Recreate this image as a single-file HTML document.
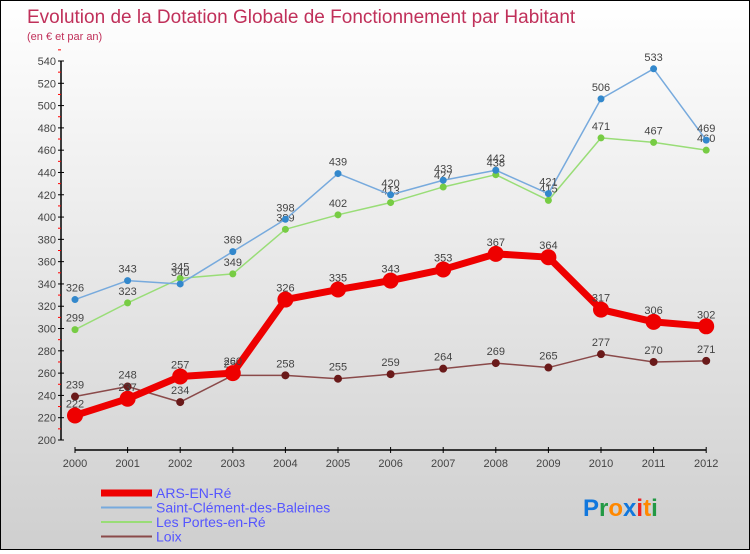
<!DOCTYPE html>
<html><head><meta charset="utf-8"><style>
body{margin:0;width:750px;height:550px;overflow:hidden;font-family:"Liberation Sans",sans-serif}
#c{position:absolute;left:0;top:0;width:748px;height:548px;border:1px solid #000;background:linear-gradient(#ffffff,#cfcfcf)}
</style></head><body>
<div id="c">
<svg id="s" width="748" height="548" xmlns="http://www.w3.org/2000/svg"></svg>
</div>
<script>
const years=["2000","2001","2002","2003","2004","2005","2006","2007","2008","2009","2010","2011","2012"];
const ars=[222,237,257,260,326,335,343,353,367,364,317,306,302];
const scb=[326,343,340,369,398,439,420,433,442,421,506,533,469];
const lpr=[299,323,345,349,389,402,413,427,438,415,471,467,460];
const loix=[239,248,234,258,258,255,259,264,269,265,277,270,271];
const yTicks=[200,220,240,260,280,300,320,340,360,380,400,420,440,460,480,500,520,540];
const NS="http://www.w3.org/2000/svg";
const s=document.getElementById('s');
function x(i){return 74+i*52.6;}
function y(v){return 439-(v-200)*1.1147;}
function el(t,a,txt){const e=document.createElementNS(NS,t);for(const k in a)e.setAttribute(k,a[k]);if(txt!==undefined)e.textContent=txt;s.appendChild(e);return e;}
let t=el('text',{x:26,y:22,'font-size':19,fill:'#c0305a'},'Evolution de la Dotation Globale de Fonctionnement par Habitant');

t=el('text',{x:26,y:39,'font-size':11,fill:'#c0305a'},'(en € et par an)');

let a=el('line',{x1:60,y1:y(540),x2:60,y2:y(200),stroke:'#000','stroke-width':1.5});

yTicks.forEach(v=>{
 el('line',{x1:57,x2:63,y1:y(v),y2:y(v),stroke:'#000'});
 el('line',{x1:57,x2:60,y1:y(v+10),y2:y(v+10),stroke:'#f00'});
 const l=el('text',{x:55,y:y(v)+4,'font-size':11,fill:'#444','text-anchor':'end'},v);
 
});
a=el('line',{x1:x(0),y1:449,x2:x(12),y2:449,stroke:'#000','stroke-width':1.5});

years.forEach((yr,i)=>{
 el('line',{x1:x(i),x2:x(i),y1:446,y2:452,stroke:'#000'});
 const l=el('text',{x:x(i),y:466,'font-size':11,fill:'#444','text-anchor':'middle'},yr);
 
});
function series(d,col,dot,w,r,name){
 const p=el('polyline',{points:d.map((v,i)=>x(i)+','+y(v)).join(' '),fill:'none',stroke:col,'stroke-width':w,'stroke-linejoin':'round'});
 
 d.forEach((v,i)=>{
  const c=el('circle',{cx:x(i),cy:y(v),r:r,fill:dot});
  
  const l=el('text',{x:x(i),y:y(v)-8,'font-size':11,fill:'#444','text-anchor':'middle'},v);
  
 });
}
series(loix,'#8a4a4a','#6a1a1a',1.5,4,'loix');
series(lpr,'#99dd77','#77cc44',1.5,3.5,'les-portes');
series(scb,'#77aadd','#3388cc',1.5,3.5,'saint-clement');
series(ars,'#ee0000','#ee0000',7,8,'ars-en-re');
const leg=[['ARS-EN-Ré','#ee0000',7],['Saint-Clément-des-Baleines','#77aadd',2],['Les Portes-en-Ré','#99dd77',2],['Loix','#8a4a4a',2]];
leg.forEach((l,i)=>{
 const yy=492+i*14.5;
 const ln=el('line',{x1:100,x2:151,y1:yy,y2:yy,stroke:l[1],'stroke-width':l[2]});
 
 const tx=el('text',{x:155,y:yy+5,'font-size':14,fill:'#5555ff'},l[0]);
 
});
const lg=el('text',{x:582,y:515,'font-size':24,'font-weight':'bold'});

[['P','#1177dd'],['r','#229944'],['o','#ff8800'],['x','#1177dd'],['i','#ee2222'],['t','#ff8800'],['i','#229944']].forEach(c=>{const sp=document.createElementNS(NS,'tspan');sp.setAttribute('fill',c[1]);sp.textContent=c[0];lg.appendChild(sp);});
</script>
</body></html>
